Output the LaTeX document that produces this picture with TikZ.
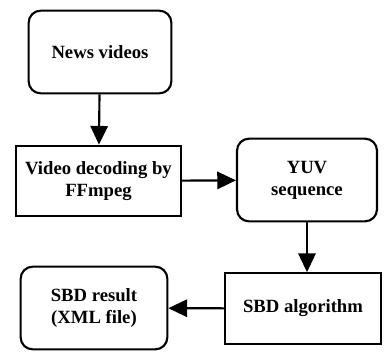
\documentclass[tikz,border=0pt]{standalone}
\usepackage{fontspec}
\setmainfont{Liberation Serif}
\usetikzlibrary{arrows.meta,positioning}

\begin{document}
\begin{tikzpicture}[x=.75pt,y=-.75pt,
    every node/.style={font=\bfseries\fontsize{14}{16.5}\selectfont,align=center,line width=1.6pt,draw},
    roundbox/.style={rounded corners=9pt},
    squarebox/.style={},
    flow/.style={line width=1.6pt,-{Triangle[width=13pt,length=14pt]}}]
      \useasboundingbox (0,0) rectangle (384,351);
      \node [roundbox,minimum width=107pt,minimum height=62pt] (news) at (100,52) {News videos};
      \node [squarebox,minimum width=124pt,minimum height=53pt] (decode) at (98.5,181) {Video decoding by\\FFmpeg};
      \node [roundbox,minimum width=105pt,minimum height=62pt] (yuv) at (307,180) {YUV\\sequence};
      \node [squarebox,minimum width=117pt,minimum height=53pt] (sbd) at (303,308.5) {SBD algorithm};
      \node [roundbox,minimum width=110pt,minimum height=62pt] (result) at (94,308) {SBD result\\(XML file)};
      \draw [flow] (news) -- (decode);
      \draw [flow] (decode) -- (yuv);
      \draw [flow] (yuv) -- (yuv |- sbd.north);
      \draw [flow] (sbd) -- (result);
    \end{tikzpicture}
\end{document}
